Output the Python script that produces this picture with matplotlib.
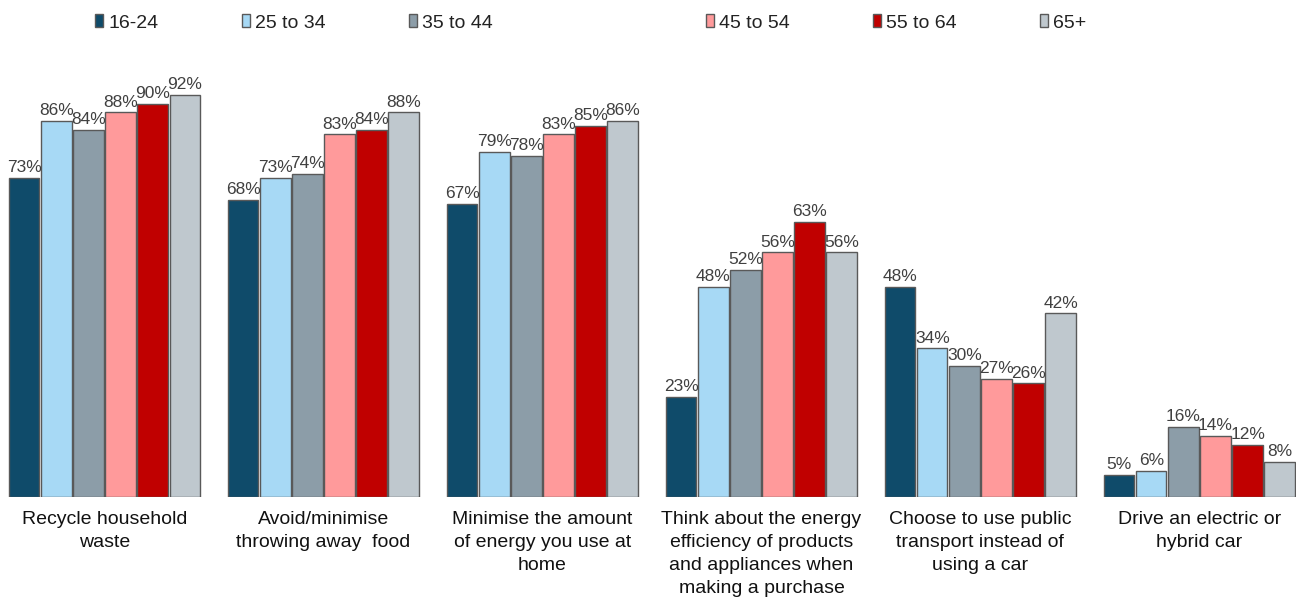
import matplotlib
matplotlib.use("Agg")
import numpy as np
from matplotlib import pyplot as plt
from matplotlib.patches import Patch

plt.rcParams['font.family'] = ['Liberation Sans', 'DejaVu Sans']

categories = ["Recycle household\nwaste",
              "Avoid/minimise\nthrowing away  food",
              "Minimise the amount\nof energy you use at\nhome",
              "Think about the energy\nefficiency of products\nand appliances when\nmaking a purchase",
              "Choose to use public\ntransport instead of\nusing a car",
              "Drive an electric or\nhybrid car"]
age_groups = ["16-24", "25 to 34", "35 to 44", "45 to 54", "55 to 64", "65+"]
values = {
    "16-24":    [73, 68, 67, 23, 48, 5],
    "25 to 34": [86, 73, 79, 48, 34, 6],
    "35 to 44": [84, 74, 78, 52, 30, 16],
    "45 to 54": [88, 83, 83, 56, 27, 14],
    "55 to 64": [90, 84, 85, 63, 26, 12],
    "65+":      [92, 88, 86, 56, 42, 8],
}
colors = ["#0F4B6A", "#A7D9F5", "#8C9DA8", "#FF9A9B", "#C00000", "#BFC8CE"]

fig = plt.figure(figsize=(12.96, 6.02), dpi=100)
ax = fig.add_axes([0, 0.1744, 1, 0.7259])

x = np.arange(len(categories))
pitch = 0.1466
width = 0.139
for j, g in enumerate(age_groups):
    pos = x + (j - 2.5) * pitch
    bars = ax.bar(pos, values[g], width, color=colors[j],
                  edgecolor="#595959", linewidth=1.0, label=g)
    ax.bar_label(bars, labels=[f"{v}%" for v in values[g]], padding=2,
                 fontsize=12.5, color="#404040")

ax.set_xlim(-0.477, 5.441)
ax.set_ylim(0, 100)
ax.set_xticks(x)
ax.set_xticklabels(categories, fontsize=14, color="#111111", linespacing=1.47)
ax.tick_params(axis='x', length=0, pad=10)
ax.set_yticks([])
for s in ax.spines.values():
    s.set_visible(False)

handles = [Patch(facecolor=c, edgecolor="#595959", linewidth=1.0) for c in colors]
leg_kw = dict(loc='center left', ncol=3, frameon=False, fontsize=14,
              handlelength=0.42, handleheight=0.65, handletextpad=0.25,
              columnspacing=4.3)
leg1 = fig.legend(handles[:3], age_groups[:3], bbox_to_anchor=(0.060, 0.962), **leg_kw)
leg2 = fig.legend(handles[3:], age_groups[3:], bbox_to_anchor=(0.531, 0.962), **leg_kw)
for t in leg1.get_texts() + leg2.get_texts():
    t.set_color("#222222")

fig.savefig("out.png", dpi=100)
